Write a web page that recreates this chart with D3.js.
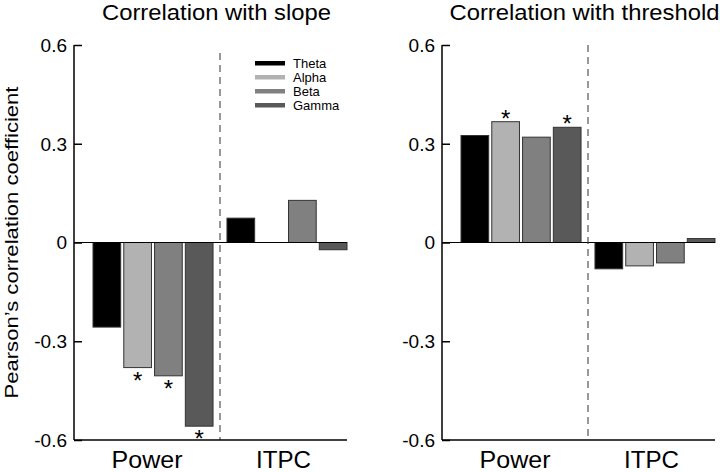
<!DOCTYPE html>
<html>
<head>
  <meta charset="utf-8">
  <style>
    body { margin: 0; background: #fff; }
    text { font-family: Arial, "Liberation Sans", Helvetica, sans-serif; }
  </style>
</head>
<body>
  <div id="chart-container"></div>
  <script src="https://d3js.org/d3.v7.min.js"></script>
  <script>
    // data
    const bands = ['Theta', 'Alpha', 'Beta', 'Gamma'];
    const groups = ['Power', 'ITPC'];
    const bandColors = ['#000000', '#b2b2b2', '#808080', '#595959'];
    const yTicks = [-0.6, -0.3, 0, 0.3, 0.6];
    const yTickLabels = ['-0.6', '-0.3', '0', '0.3', '0.6'];

    const slopePower = [-0.257, -0.38, -0.405, -0.558];
    const slopeItpc = [0.074, 0, 0.128, -0.022];
    const slopeSig = [false, true, true, true];

    const thresholdPower = [0.325, 0.367, 0.32, 0.35];
    const thresholdItpc = [-0.08, -0.071, -0.062, 0.012];
    const thresholdSig = [false, true, false, true];

    const width = 720;
    const height = 472;

    const svg = d3.select('#chart-container')
      .append('svg')
      .attr('width', width)
      .attr('height', height);

    const yScale = d3.scaleLinear().domain([-0.6, 0.6]).range([440, 45]);

    // the original glyphs are a bit wider than Arial, so some texts get a set length
    const panels = [
      { title: 'Correlation with slope', titleLen: 229, x0: 74, x1: 347, dashTop: 53, values: [slopePower, slopeItpc], sig: slopeSig, legend: true, yLabel: true },
      { title: 'Correlation with threshold', titleLen: 270, x0: 442, x1: 715, dashTop: 45, values: [thresholdPower, thresholdItpc], sig: thresholdSig, legend: false, yLabel: false }
    ];
    const groupLabelLen = [71, 55];

    panels.forEach(p => {
      const g = svg.append('g');

      const xGroup = d3.scaleBand().domain(groups).range([p.x0 + 19, p.x1]).paddingInner(0.104);
      const xBand = d3.scaleBand().domain(bands).range([0, xGroup.bandwidth()]).paddingInner(0.1);

      // title
      g.append('text')
        .attr('x', (p.x0 + p.x1) / 2 + 6)
        .attr('y', 20)
        .attr('text-anchor', 'middle')
        .attr('font-size', 22)
        .attr('textLength', p.titleLen)
        .attr('lengthAdjust', 'spacingAndGlyphs')
        .text(p.title);

      // bars
      const rows = [];
      groups.forEach((grp, gi) => {
        p.values[gi].forEach((v, bi) => {
          rows.push({ group: grp, band: bands[bi], value: v, color: bandColors[bi], sig: gi === 0 && p.sig[bi] });
        });
      });

      g.selectAll('rect.bar')
        .data(rows.filter(d => d.value !== 0))
        .enter()
        .append('rect')
        .attr('class', 'bar')
        .attr('x', d => xGroup(d.group) + xBand(d.band))
        .attr('y', d => yScale(Math.max(0, d.value)))
        .attr('width', xBand.bandwidth())
        .attr('height', d => Math.abs(yScale(d.value) - yScale(0)))
        .attr('fill', d => d.color)
        .attr('stroke', '#333')
        .attr('stroke-width', 1);

      g.selectAll('text.star')
        .data(rows.filter(d => d.sig))
        .enter()
        .append('text')
        .attr('class', 'star')
        .attr('text-anchor', 'middle')
        .attr('font-size', 24)
        .attr('x', d => xGroup(d.group) + xBand(d.band) + xBand.bandwidth() / 2)
        .attr('y', d => d.value < 0 ? yScale(d.value) + 21 : yScale(d.value) + 5)
        .text('*');

      // zero line
      g.append('line')
        .attr('x1', p.x0).attr('x2', p.x1)
        .attr('y1', yScale(0)).attr('y2', yScale(0))
        .attr('stroke', '#000').attr('stroke-width', 1);

      // dashed separator between groups
      const sepX = (xGroup('Power') + xGroup.bandwidth() + xGroup('ITPC')) / 2;
      g.append('line')
        .attr('x1', sepX).attr('x2', sepX)
        .attr('y1', p.dashTop).attr('y2', yScale(-0.6))
        .attr('stroke', '#333').attr('stroke-width', 1)
        .attr('stroke-dasharray', '7,5');

      // y axis with inward ticks
      const yAxis = d3.axisRight(yScale).tickValues(yTicks).tickSize(8).tickFormat('');
      const ya = g.append('g').attr('transform', `translate(${p.x0},0)`).call(yAxis);
      ya.select('.domain').attr('d', `M0,${yScale(0.6)}V${yScale(-0.6)}`).attr('stroke-width', 1.5);
      ya.selectAll('.tick line').attr('stroke-width', 1.5);

      g.selectAll('text.ytick')
        .data(yTicks)
        .enter()
        .append('text')
        .attr('class', 'ytick')
        .attr('x', p.x0 - 7)
        .attr('y', d => yScale(d))
        .attr('dy', '0.36em')
        .attr('text-anchor', 'end')
        .attr('font-size', 19)
        .text((d, i) => yTickLabels[i]);

      // bottom axis line
      g.append('line')
        .attr('x1', p.x0).attr('x2', p.x1)
        .attr('y1', yScale(-0.6)).attr('y2', yScale(-0.6))
        .attr('stroke', '#000').attr('stroke-width', 1.5);

      // group labels
      const regions = [[p.x0, sepX], [sepX, p.x1]];
      groups.forEach((grp, gi) => {
        g.append('text')
          .attr('x', (regions[gi][0] + regions[gi][1]) / 2)
          .attr('y', 468)
          .attr('text-anchor', 'middle')
          .attr('font-size', 23)
          .attr('textLength', groupLabelLen[gi])
          .attr('lengthAdjust', 'spacingAndGlyphs')
          .text(grp);
      });

      if (p.yLabel) {
        g.append('text')
          .attr('transform', `translate(18,${yScale(0)}) rotate(-90)`)
          .attr('text-anchor', 'middle')
          .attr('font-size', 19)
          .attr('textLength', 312)
          .attr('lengthAdjust', 'spacingAndGlyphs')
          .text('Pearson\u2019s correlation coefficient');
      }

      if (p.legend) {
        const legend = g.append('g').attr('transform', 'translate(255,63)');
        const items = legend.selectAll('.legend-item')
          .data(bands)
          .enter()
          .append('g')
          .attr('class', 'legend-item')
          .attr('transform', (d, i) => `translate(0,${i * 14})`);
        items.append('rect')
          .attr('x', 0).attr('y', -2)
          .attr('width', 30).attr('height', 4.5)
          .attr('fill', (d, i) => bandColors[i]);
        items.append('text')
          .attr('x', 38)
          .attr('y', 0)
          .attr('dy', '0.36em')
          .attr('font-size', 13)
          .text(d => d);
      }
    });
  </script>
</body>
</html>
